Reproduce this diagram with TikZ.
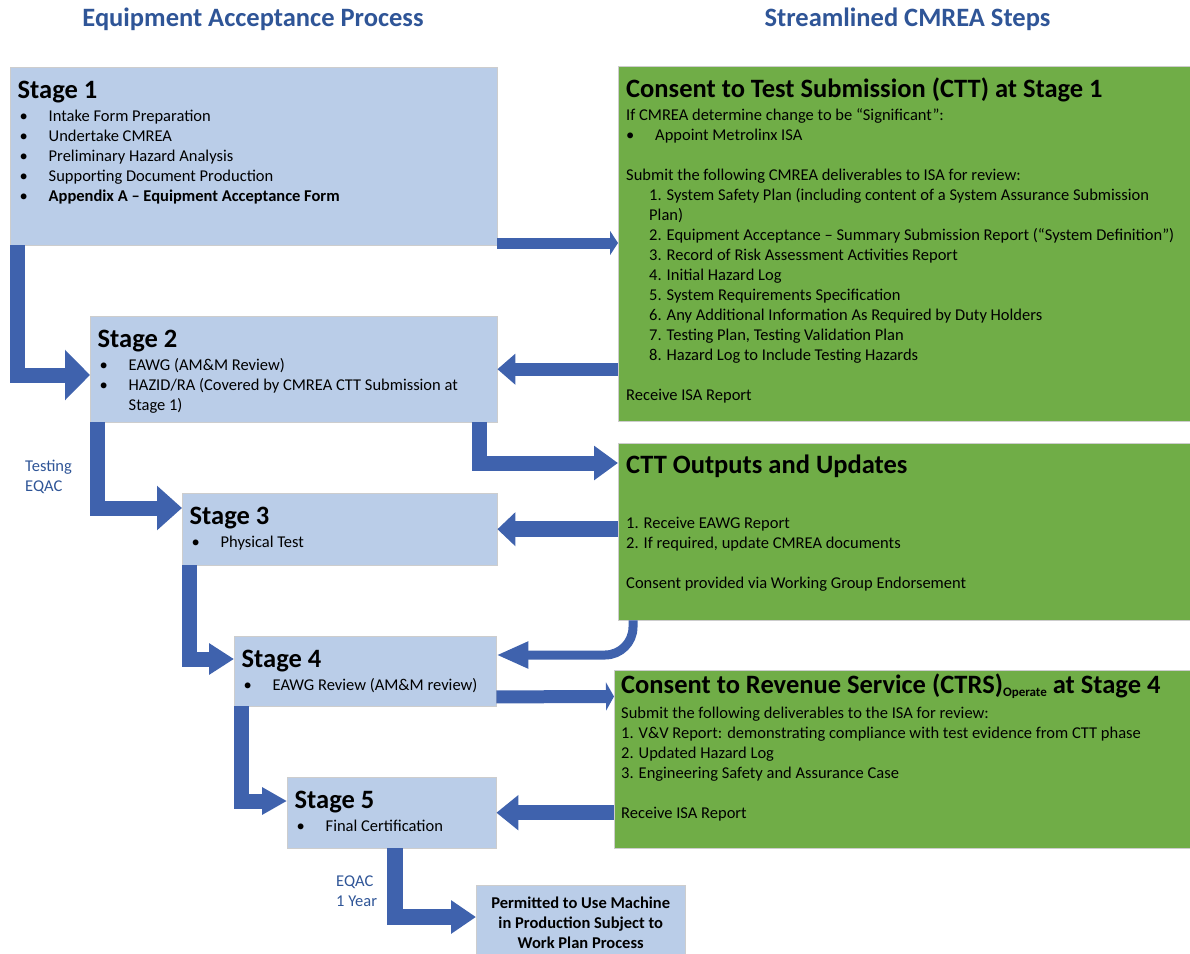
\documentclass[tikz,border=0pt]{standalone}
\usepackage{fontspec}
\setmainfont{Carlito}
\usetikzlibrary{arrows.meta, positioning}

\definecolor{stagefill}{RGB}{186,205,232}
\definecolor{cmreagreen}{RGB}{112,173,71}
\definecolor{flowblue}{RGB}{63,98,173}
\definecolor{titleblue}{RGB}{47,85,151}
\definecolor{boxline}{RGB}{205,205,205}

\newcommand{\bul}{\makebox[31pt][l]{\hspace{2pt}\textbullet}}
\newcommand{\ind}{\hspace*{23pt}}
\newcommand{\boxtext}[1]{\begin{tabular}[t]{@{}l@{}}#1\end{tabular}}
\newcommand{\head}[1]{{\fontsize{26.5}{30}\selectfont\bfseries #1}}

\tikzset{
  stagebox/.style={draw=boxline, fill=stagefill, anchor=north west, inner sep=0pt},
  greenbox/.style={draw=boxline, fill=cmreagreen, anchor=north west, inner sep=0pt},
  boxlabel/.style={anchor=base west, inner sep=0pt, font=\fontsize{16.5}{20}\selectfont},
  sidenote/.style={boxlabel, text=titleblue},
  coltitle/.style={anchor=base, inner sep=0pt, text=titleblue, font=\fontsize{26.5}{30}\selectfont\bfseries},
  flow/.style={draw=flowblue, line join=miter},
}

\begin{document}
\begin{tikzpicture}[x=1pt, y=-1pt]
\useasboundingbox (0,0) rectangle (1190,953);

% column titles
\node[coltitle] (lefthead) at (253,26) {Equipment Acceptance Process};
\node[coltitle] (righthead) at (907.5,26) {Streamlined CMREA Steps};

% stage boxes
\node[stagebox, minimum width=487pt, minimum height=178pt] (s1) at (10,67) {};
\node[stagebox, minimum width=407pt, minimum height=106pt] (s2) at (90,316) {};
\node[stagebox, minimum width=315pt, minimum height=72pt] (s3) at (182,493) {};
\node[stagebox, minimum width=262pt, minimum height=70pt] (s4) at (234,636) {};
\node[stagebox, minimum width=209pt, minimum height=71pt] (s5) at (287,777) {};
\node[stagebox, minimum width=209pt, minimum height=76pt, align=center,
  font=\fontsize{16.5}{20}\selectfont\bfseries] (permit) at (476,885)
  {Permitted to Use Machine\\in Production Subject to\\Work Plan Process};

\node[boxlabel] (s1text) at ([shift={(7.5pt,-31pt)}]s1.north west) {\boxtext{
  \head{Stage 1}\\[3pt]
  \bul Intake Form Preparation\\
  \bul Undertake CMREA\\
  \bul Preliminary Hazard Analysis\\
  \bul Supporting Document Production\\
  \bul\textbf{Appendix A -- Equipment Acceptance Form}}};
\node[boxlabel] (s2text) at ([shift={(7.5pt,-31pt)}]s2.north west) {\boxtext{
  \head{Stage 2}\\[3pt]
  \bul EAWG (AM\&M Review)\\
  \bul HAZID/RA (Covered by CMREA CTT Submission at\\
  \hspace*{31pt}Stage 1)}};
\node[boxlabel] (s3text) at ([shift={(7.5pt,-31pt)}]s3.north west) {\boxtext{
  \head{Stage 3}\\[3pt]
  \bul Physical Test}};
\node[boxlabel] (s4text) at ([shift={(7.5pt,-31pt)}]s4.north west) {\boxtext{
  \head{Stage 4}\\[3pt]
  \bul EAWG Review (AM\&M review)}};
\node[boxlabel] (s5text) at ([shift={(7.5pt,-31pt)}]s5.north west) {\boxtext{
  \head{Stage 5}\\[3pt]
  \bul Final Certification}};

% CMREA boxes
\node[greenbox, minimum width=572pt, minimum height=355pt] (ctt) at (618,66) {};
\node[greenbox, minimum width=572pt, minimum height=177pt] (out) at (618,443) {};
\node[greenbox, minimum width=576pt, minimum height=178pt] (ctrs) at (614,670) {};

\node[boxlabel] (ctttext) at ([shift={(8pt,-31pt)}]ctt.north west) {\boxtext{
  \head{Consent to Test Submission (CTT) at Stage 1}\\[3pt]
  If CMREA determine change to be “Significant”:\\
  \makebox[29pt][l]{\textbullet}Appoint Metrolinx ISA\\
  \\
  Submit the following CMREA deliverables to ISA for review:\\
  \ind 1. System Safety Plan (including content of a System Assurance Submission\\
  \ind Plan)\\
  \ind 2. Equipment Acceptance -- Summary Submission Report (“System Definition”)\\
  \ind 3. Record of Risk Assessment Activities Report\\
  \ind 4. Initial Hazard Log\\
  \ind 5. System Requirements Specification\\
  \ind 6. Any Additional Information As Required by Duty Holders\\
  \ind 7. Testing Plan, Testing Validation Plan\\
  \ind 8. Hazard Log to Include Testing Hazards\\
  \\
  Receive ISA Report}};
\node[boxlabel] (outtext) at ([shift={(8pt,-30pt)}]out.north west) {\boxtext{
  \head{CTT Outputs and Updates}\\[35pt]
  1. Receive EAWG Report\\
  2. If required, update CMREA documents\\
  \\
  Consent provided via Working Group Endorsement}};
\node[boxlabel] (ctrstext) at ([shift={(7pt,-23pt)}]ctrs.north west) {\boxtext{
  \head{Consent to Revenue Service (CTRS)\raisebox{-3pt}{\fontsize{13}{13}\selectfont Operate} at Stage 4}\\[5pt]
  Submit the following deliverables to the ISA for review:\\
  1. V\&V Report: demonstrating compliance with test evidence from CTT phase\\
  2. Updated Hazard Log\\
  3. Engineering Safety and Assurance Case\\
  \\
  Receive ISA Report}};

% side notes
\node[sidenote] (testnote) at (25,471) {\boxtext{Testing\\EQAC}};
\node[sidenote] (yearnote) at (336,886) {\boxtext{EQAC\\1 Year}};

% stage flow
\draw[flow, line width=15pt, -{Triangle[length=25pt,width=49pt]}]
  ([xshift=7.5pt]s1.south west) |- ([yshift=-59pt]s2.north west);
\draw[flow, line width=15pt, -{Triangle[length=25pt,width=43pt]}]
  ([xshift=7.5pt]s2.south west) |- ([yshift=-15pt]s3.north west);
\draw[flow, line width=15pt, -{Triangle[length=25pt,width=30pt]}]
  ([xshift=7.5pt]s3.south west) |- ([yshift=-23pt]s4.north west);
\draw[flow, line width=15pt, -{Triangle[length=25pt,width=26pt]}]
  ([xshift=7.5pt]s4.south west) |- ([yshift=-24pt]s5.north west);
\draw[flow, line width=16pt, -{Triangle[length=25pt,width=32pt]}]
  ([xshift=107.5pt]s5.south west) |- ([yshift=-32pt]permit.north west);

% to and from CMREA
\draw[flow, line width=11pt, -{Triangle[length=8pt,width=24pt]}]
  (s1.east |- 0,243) -- (ctt.west |- 0,243);
\draw[flow, line width=13pt, -{Triangle[length=18pt,width=30pt]}]
  (ctt.west |- s2.east) -- (s2.east);
\draw[flow, line width=15pt, -{Triangle[length=24pt,width=33pt]}]
  ([xshift=-17.5pt]s2.south east) |- ([yshift=-20pt]out.north west);
\draw[flow, line width=16pt, -{Triangle[length=18pt,width=33pt]}]
  (out.west |- s3.east) -- (s3.east);
\draw[flow, line width=9pt, rounded corners=28pt, -{Triangle[length=32pt,width=25pt]}]
  ([xshift=15pt]out.south west) |- ([yshift=-19pt]s4.north east);
\draw[flow, line width=13pt, -{Triangle[length=8pt,width=28pt]}]
  ([yshift=9.5pt]s4.south east) -- (ctrs.west |- 0,696.5);
\draw[flow, line width=15pt, -{Triangle[length=22pt,width=34pt]}]
  (ctrs.west |- s5.east) -- (s5.east);
\end{tikzpicture}
\end{document}
